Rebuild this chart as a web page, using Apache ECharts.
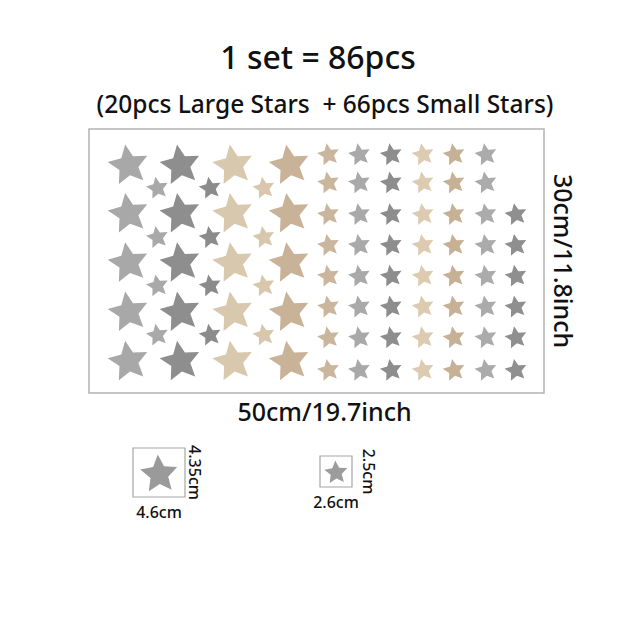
<!DOCTYPE html>
<html>
<head>
<meta charset="utf-8">
<script src="https://cdn.jsdelivr.net/npm/echarts@6/dist/echarts.min.js"></script>
<style>
html,body{margin:0;padding:0;background:#fff;}
#chart{width:640px;height:640px;}
</style>
</head>
<body>
<div id="chart"></div>
<script>
// ---- data (positions in cm on the 50cm x 30cm sheet) ----
const sheetWidthCm = 50;
const sheetHeightCm = 30;
const sheetWidthLabel = '50cm/19.7inch';
const sheetHeightLabel = '30cm/11.8inch';
const titleText = '1 set = 86pcs';
const subtitleText = '(20pcs Large Stars  + 66pcs Small Stars)';

const largeX = [4.3, 10.0, 15.8, 22.0];
const largeY = [3.9, 9.4, 15.0, 20.6, 26.2];
const largeColors = ['#a8a8a8', '#8e8e8e', '#d8c8ad', '#c8b398'];

const smallLeftX = [7.5, 13.3, 19.2];
const smallLeftY = [6.6, 12.2, 17.7, 23.3];
const smallLeftColors = ['#a9a9a9', '#8b8b8b', '#d8c7ac'];

const smallRightX = [26.3, 29.7, 33.2, 36.7, 40.1, 43.6, 46.9];
const smallRightY = [2.8, 6.0, 9.6, 13.1, 16.6, 20.1, 23.6, 27.3];
const smallRightFirstRow = [0, 0, 0, 0, 0, 0, 2];
const smallRightColors = ['#c9b69c', '#a9a9a9', '#8d8d8d', '#dccbb0', '#c6b195', '#ababab', '#8f8f8f'];

const pieceWidthCm = [4.6, 2.6];
const pieceHeightCm = [4.35, 2.5];
const pieceLabelsW = ['4.6cm', '2.6cm'];
const pieceLabelsH = ['4.35cm', '2.5cm'];

// ---- build point lists ----
const largeData = [];
largeX.forEach((x, c) => largeY.forEach(y => largeData.push([x, y, c])));
const smallData = [];
smallLeftX.forEach((x, c) => smallLeftY.forEach(y => smallData.push([x, y, c, 'L'])));
smallRightX.forEach((x, c) => smallRightY.forEach((y, r) => {
  if (r >= smallRightFirstRow[c]) smallData.push([x, y, c, 'R']);
}));

const STAR = 'path://M50,0 L64.11,30.58 L97.55,34.55 L72.83,57.42 L79.39,90.45 L50,74 L20.61,90.45 L27.17,57.42 L2.45,34.55 L35.89,30.58 Z';
const FONT = '"Noto Sans", "Open Sans", sans-serif';

function hiddenAxis(extra) {
  return Object.assign({
    type: 'value',
    axisLine: { show: false },
    axisTick: { show: false },
    axisLabel: { show: false },
    splitLine: { show: false }
  }, extra);
}

const chart = echarts.init(document.getElementById('chart'), null, { renderer: 'svg' });
chart.setOption({
  backgroundColor: '#ffffff',
  animation: false,
  title: [
    { text: titleText, left: 313, top: 35, textAlign: 'center',
      textStyle: { fontFamily: FONT, fontSize: 32, fontWeight: 500, color: '#111' } },
    { text: subtitleText, left: 320, top: 86, textAlign: 'center',
      textStyle: { fontFamily: FONT, fontSize: 24.5, fontWeight: 500, color: '#111' } }
  ],
  grid: [
    { left: 89, top: 129, width: 455, height: 264, show: true, borderColor: '#b3b3b3', borderWidth: 1.5, backgroundColor: '#fff' },
    { left: 133, top: 448, width: 52, height: 49, show: true, borderColor: '#a6a6a6', borderWidth: 1.2 },
    { left: 320, top: 456, width: 32, height: 31, show: true, borderColor: '#a6a6a6', borderWidth: 1.2 }
  ],
  xAxis: [
    hiddenAxis({ gridIndex: 0, min: 0, max: sheetWidthCm, name: sheetWidthLabel, nameLocation: 'middle', nameGap: 5,
      nameTextStyle: { fontFamily: FONT, fontSize: 25, fontWeight: 500, color: '#111', padding: [0, 0, 0, 16] } }),
    hiddenAxis({ gridIndex: 1, min: 0, max: pieceWidthCm[0], name: pieceLabelsW[0], nameLocation: 'middle', nameGap: 7,
      nameTextStyle: { fontFamily: FONT, fontSize: 16, fontWeight: 500, color: '#111' } }),
    hiddenAxis({ gridIndex: 2, min: 0, max: pieceWidthCm[1], name: pieceLabelsW[1], nameLocation: 'middle', nameGap: 7,
      nameTextStyle: { fontFamily: FONT, fontSize: 16, fontWeight: 500, color: '#111' } })
  ],
  yAxis: [
    hiddenAxis({ gridIndex: 0, min: 0, max: sheetHeightCm, inverse: true, position: 'right', name: sheetHeightLabel,
      nameLocation: 'middle', nameRotate: -90, nameGap: 7,
      nameTextStyle: { fontFamily: FONT, fontSize: 25, fontWeight: 500, color: '#111' } }),
    hiddenAxis({ gridIndex: 1, min: 0, max: pieceHeightCm[0], position: 'right', name: pieceLabelsH[0],
      nameLocation: 'middle', nameRotate: -90, nameGap: 2,
      nameTextStyle: { fontFamily: FONT, fontSize: 16, fontWeight: 500, color: '#111' } }),
    hiddenAxis({ gridIndex: 2, min: 0, max: pieceHeightCm[1], position: 'right', name: pieceLabelsH[1],
      nameLocation: 'middle', nameRotate: -90, nameGap: 9,
      nameTextStyle: { fontFamily: FONT, fontSize: 16, fontWeight: 500, color: '#111' } })
  ],
  series: [
    {
      name: 'Large Stars', type: 'scatter', xAxisIndex: 0, yAxisIndex: 0,
      symbol: STAR, symbolSize: [40, 38], symbolRotate: 9,
      itemStyle: { opacity: 1, color: p => largeColors[p.data[2]] },
      data: largeData, silent: true
    },
    {
      name: 'Small Stars', type: 'scatter', xAxisIndex: 0, yAxisIndex: 0,
      symbol: STAR, symbolSize: [22, 21], symbolRotate: 10,
      itemStyle: { opacity: 1, color: p => (p.data[3] === 'L' ? smallLeftColors : smallRightColors)[p.data[2]] },
      data: smallData, silent: true
    },
    {
      name: 'Large Star Size', type: 'scatter', xAxisIndex: 1, yAxisIndex: 1,
      symbol: STAR, symbolSize: [37, 36], symbolRotate: 4,
      itemStyle: { opacity: 1, color: '#9a9a9a' },
      data: [[pieceWidthCm[0] / 2, pieceHeightCm[0] / 2]], silent: true
    },
    {
      name: 'Small Star Size', type: 'scatter', xAxisIndex: 2, yAxisIndex: 2,
      symbol: STAR, symbolSize: [23, 22], symbolRotate: 4,
      itemStyle: { opacity: 1, color: '#9c9c9c' },
      data: [[pieceWidthCm[1] / 2, pieceHeightCm[1] / 2]], silent: true
    }
  ]
});
</script>
</body>
</html>
